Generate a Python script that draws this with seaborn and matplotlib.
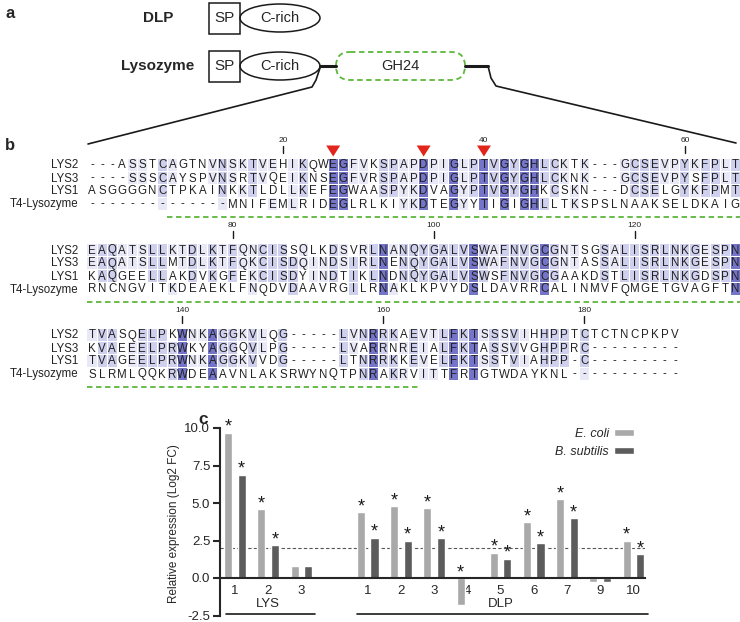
import numpy as np
import pandas as pd
import matplotlib
matplotlib.use('Agg')
import matplotlib.pyplot as plt
import seaborn as sns
from matplotlib.patches import Rectangle, Ellipse, FancyBboxPatch, Polygon
from collections import Counter

sns.set_theme(style='ticks')
plt.rcParams['font.family'] = ['Liberation Sans', 'DejaVu Sans']
plt.rcParams['axes.unicode_minus'] = False

# ------------------------------------------------------------
# Data
# ------------------------------------------------------------
# panel b: alignment
seq_names = ['LYS2', 'LYS3', 'LYS1', 'T4-Lysozyme']
block1 = ['---ASSTCAGTNVNSKTVEHIKQWEGFVKSPAPDPIGLPTVGYGHLCKTK---GCSEVPYKFPLT',
          '----SSSCAYSPVNSRTVQEIKNSEGFVRSPAPDPIGLPTVGYGHLCKNK---GCSEVPYSFPLT',
          'ASGGGGNCTPKAINKKTLDLLKEFEGWAASPYKDVAGYPTVGYGHKCSKN---DCSELGYKFPMT',
          '--------------MNIFEMLRIDEGLRLKIYKDTEGYYTIGIGHLLTKSPSLNAAKSELDKAIG']
block2 = ['EAQATSLLKTDLKTFQNCISSQLKDSVRLNANQYGALVSWAFNVGCGNTSGSALISRLNKGESPN',
          'EAQATSLLMTDLKTFQKCISDQINDSIRLNENQYGALVSWAFNVGCGNTASSALISRLNKGESPN',
          'KAQGEELLAKDVKGFEKCISDYINDTIKLNDNQYGALVSWSFNVGCGAAKDSTLISRLNKGDSPN',
          'RNCNGVITKDEAEKLFNQDVDAAVRGILRNAKLKPVYDSLDAVRRCALINMVFQMGETGVAGFTN']
block3 = ['TVASQELPKWNKAGGKVLQG-----LVNRRKAEVTLFKTSSSVIHHPPTCTCTNCPKPV',
          'KVAEEELPRWKYAGGQVLPG-----LVARRNREIALFKTASSVVGHPPRC---------',
          'TVAGEELPRWNKAGGKVVDG-----LTNRRKKEVELFKTSSTVIAHPP-C---------',
          'SLRMLQQKRWDEAAVNLAKSRWYNQTPNRAKRVITTFRTGTWDAYKNL-----------']
block_ticks = [[20, 40, 60], [80, 100, 120], [140, 160, 180]]
block_offset = [0, 65, 130]
marked_cols = [25, 34, 40]          # red triangles, block 1
gh24_span = [(9, 65), (1, 65), (1, 33)]   # green underline under T4 rows

# panel c: qPCR
genes = ['LYS1', 'LYS2', 'LYS3', 'DLP1', 'DLP2', 'DLP3', 'DLP4', 'DLP5',
         'DLP6', 'DLP7', 'DLP9', 'DLP10']
gene_ticks = ['1', '2', '3', '', '1', '2', '3', '4', '5', '6', '7', '9', '10']
ecoli = [9.7, 4.6, 0.8, 4.4, 4.8, 4.65, -1.8, 1.7, 3.75, 5.25, -0.25, 2.5]
bsub = [6.9, 2.2, 0.8, 2.7, 2.5, 2.65, 0.15, 1.3, 2.35, 4.0, -0.25, 1.6]
ecoli_sig = [1, 1, 0, 1, 1, 1, 1, 1, 1, 1, 0, 1]
bsub_sig = [1, 1, 0, 1, 1, 1, 0, 1, 1, 1, 0, 1]
threshold = 2.0

# ------------------------------------------------------------
# Figure + pixel overlay for panels a/b
# ------------------------------------------------------------
fig = plt.figure(figsize=(7.4, 6.22), dpi=100)
ov = fig.add_axes([0, 0, 1, 1])
ov.set_xlim(0, 740)
ov.set_ylim(622, 0)
ov.axis('off')

# ---- panel a ----
ov.text(5, 14, 'a', fontsize=12, fontweight='bold', va='center')
ov.text(158, 18, 'DLP', fontsize=11, fontweight='bold', ha='center', va='center')
ov.text(158, 66, 'Lysozyme', fontsize=11, fontweight='bold', ha='center', va='center')
for yc in [18, 66]:
    ov.add_patch(Rectangle((209, yc - 15.5), 31, 31, fill=False, lw=1.1, ec='k'))
    ov.text(224.5, yc, 'SP', fontsize=11, ha='center', va='center')
    ov.add_patch(Ellipse((280, yc), 80, 28, fill=False, lw=1.1, ec='k'))
    ov.text(280, yc, 'C-rich', fontsize=10.5, ha='center', va='center')
ov.plot([320, 336], [66, 66], color='k', lw=2.2)
ov.plot([465, 488], [66, 66], color='k', lw=2.2)
ov.add_patch(FancyBboxPatch((336, 52), 129, 28, boxstyle='round,pad=0,rounding_size=14',
                            fill=False, ec='#5cb83c', lw=1.3, ls=(0, (3, 2))))
ov.text(400.5, 66, 'GH24', fontsize=10.5, ha='center', va='center')
ov.plot([320, 316, 312, 88], [68, 80, 87, 144], color='k', lw=1.2)
ov.plot([488, 491, 496, 736], [66, 78, 86, 143], color='k', lw=1.2)

# ---- panel b ----
ov.text(5, 145, 'b', fontsize=12, fontweight='bold', va='center')
x0, dx = 92, 10.05
row_y0 = [164.5, 249.5, 334.5]
dy = 13.0
shade = {4: '#7474c8', 3: '#cfcfee', 2: '#e8e8f7'}

for b, block in enumerate([block1, block2, block3]):
    yb = row_y0[b]
    ncol = len(block[0])
    for c in range(ncol):
        col = [s[c] for s in block]
        res = [ch for ch in col if ch != '-']
        cnt = Counter(res)
        for r, ch in enumerate(col):
            xc = x0 + c * dx
            yc = yb + r * dy
            n = cnt.get(ch, 0) if ch != '-' else 0
            if ch == '-' and cnt and max(cnt.values()) >= 3:
                n = 2
            if n >= 2:
                ov.add_patch(Rectangle((xc - dx / 2 + 0.5, yc - dy / 2 + 0.5), dx - 1, dy - 1,
                                       fc=shade[n], ec='none', zorder=1))
            ov.text(xc, yc + 4, ch, fontsize=8.3, ha='center', va='baseline',
                    color='#222222', zorder=2)
    for r, name in enumerate(seq_names):
        ov.text(78, yb + r * dy + 4, name, fontsize=8.3, ha='right', va='baseline', color='#222222')
    # position numbers
    for t in block_ticks[b]:
        xc = x0 + (t - block_offset[b] - 1) * dx
        ov.text(xc, yb - 24, str(t), fontsize=6, ha='center', va='center', color='#222222')
        if not (b == 0 and t in marked_cols):
            ov.plot([xc, xc], [yb - 19, yb - 12], color='k', lw=1)
    # GH24 underline
    s0, s1 = gh24_span[b]
    ov.plot([x0 + (s0 - 1) * dx - dx / 2, x0 + (s1 - 1) * dx + dx / 2],
            [yb + 3 * dy + 13] * 2, color='#5cb83c', lw=1.3, ls=(0, (3, 2)))

for c in marked_cols:
    xc = x0 + (c - 1) * dx
    ov.add_patch(Polygon([[xc - 7, row_y0[0] - 19], [xc + 7, row_y0[0] - 19], [xc, row_y0[0] - 8]],
                         closed=True, fc='#e3241b', ec='none', zorder=3))

# ---- panel c ----
ax = fig.add_axes([220 / 740, (622 - 615.5) / 622, 425 / 740, 187.5 / 622])
ax.set_facecolor('none')

order = genes[:3] + ['gap'] + genes[3:]
df = pd.DataFrame({
    'gene': genes * 2,
    'strain': ['E. coli'] * len(genes) + ['B. subtilis'] * len(genes),
    'value': ecoli + bsub,
})
sns.barplot(data=df, x='gene', y='value', hue='strain', order=order,
            hue_order=['E. coli', 'B. subtilis'], palette=['#a9a9a9', '#5c5c5c'],
            width=0.81, gap=0.4, saturation=1, errorbar=None, ax=ax)

ax.axhline(threshold, color='#555555', lw=0.8, ls=(0, (3, 2)), zorder=0)

off = 0.81 / 4
for i, g in enumerate(genes):
    xi = order.index(g)
    for v, sig, sgn in [(ecoli[i], ecoli_sig[i], -1), (bsub[i], bsub_sig[i], 1)]:
        if sig:
            ax.text(xi + sgn * off, max(v, 0) + 0.05, '*', fontsize=13, ha='center',
                    va='baseline', color='k')

ax.set_xlim(-0.45, 12.35)
ax.set_ylim(-2.5, 10.0)
ax.set_yticks([-2.5, 0, 2.5, 5.0, 7.5, 10.0])
ax.set_yticklabels(['-2.5', '0.0', '2.5', '5.0', '7.5', '10.0'])
ax.set_xticks(range(len(order)))
ax.set_xticklabels(gene_ticks)
ax.set_xlabel('')
ax.set_ylabel('Relative expression (Log2 FC)', fontsize=8.5)
ax.yaxis.set_label_coords(-0.094, 0.49)
for s in ['top', 'right']:
    ax.spines[s].set_visible(False)
ax.spines['bottom'].set_position(('data', 0))
ax.spines['bottom'].set_linewidth(1.5)
ax.spines['left'].set_linewidth(1.5)
ax.tick_params(axis='x', length=0, pad=5, labelsize=9.5)
ax.tick_params(axis='y', length=5, width=1.5, labelsize=9.5, pad=2)

ax.text(1, -1.75, 'LYS', fontsize=9.5, ha='center', va='center')
ax.plot([-0.27, 2.4], [-2.42, -2.42], color='k', lw=1.2, clip_on=False)
ax.text(8, -1.75, 'DLP', fontsize=9.5, ha='center', va='center')
ax.plot([3.67, 12.44], [-2.42, -2.42], color='k', lw=1.2, clip_on=False)

handles, labels = ax.get_legend_handles_labels()
ax.legend(handles, labels, loc='upper right', bbox_to_anchor=(1.0, 1.06), frameon=False,
          markerfirst=False, prop={'style': 'italic', 'size': 9},
          handlelength=1.6, handleheight=0.45, labelspacing=0.5, handletextpad=0.4)

fig.text(203 / 740, 1 - 419 / 622, 'c', fontsize=12.5, fontweight='bold', va='center', ha='center')

fig.savefig('out.png', dpi=100)
